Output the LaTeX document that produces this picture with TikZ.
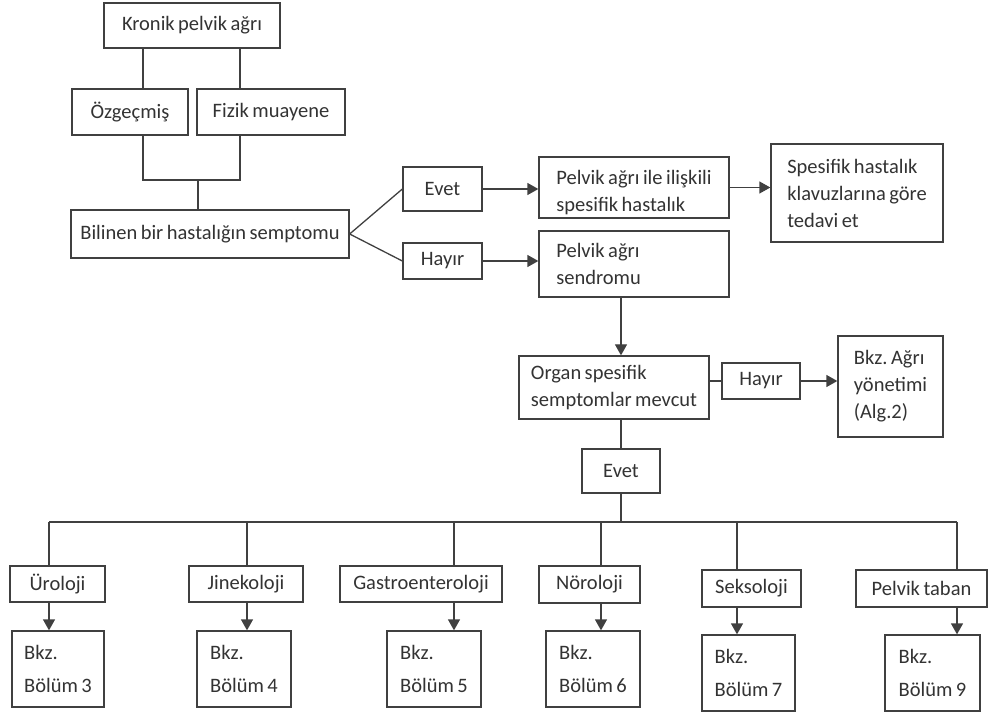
\documentclass[tikz,border=0pt]{standalone}
\usepackage{fontspec}
\setmainfont[WordSpace=0.75]{Carlito}
\frenchspacing
\usetikzlibrary{arrows.meta}

\begin{document}
\begin{tikzpicture}[
        x=1pt, y=-1pt,
        kutu/.style 2 args={
            rectangle,
            draw=black!75,
            line width=1.3pt,
            fill=white,
            text=black!80,
            minimum width=#1,
            minimum height=#2,
            inner xsep=8pt,
            inner ysep=0pt,
            align=left,
            font=\fontsize{20.5}{27}\selectfont
        },
        cizgi/.style={draw=black!75, line width=1.3pt},
        ok/.style={cizgi, -{Triangle[length=11pt,width=12pt]}}
    ]

    \useasboundingbox (0,0) rectangle (989,714);

    % Kutular
    \node[kutu={176pt}{45pt}]  (kronik)   at (192,25.5)  {Kronik pelvik ağrı};
    \node[kutu={116pt}{46pt}]  (ozgecmis) at (130,112)   {Özgeçmiş};
    \node[kutu={148pt}{46pt}]  (fizik)    at (271,112)   {Fizik muayene};
    \node[kutu={278pt}{48pt}]  (bilinen)  at (210,234)   {Bilinen bir hastalığın semptomu};
    \node[kutu={79pt}{44pt}]   (evet1)    at (442.5,189) {Evet};
    \node[kutu={79pt}{36pt}]   (hayir1)   at (442.5,261) {Hayır};
    \node[kutu={190pt}{61pt}]  (iliskili) at (634,187.5) {\rule{0pt}{24pt}Pelvik ağrı ile ilişkili\\spesifik hastalık};
    \node[kutu={190pt}{66pt}]  (sendrom)  at (634,264)   {Pelvik ağrı\phantom{ ile ilişkili}\\sendromu};
    \node[kutu={172pt}{98pt}]  (spesifik) at (857,193)   {Spesifik hastalık\\klavuzlarına göre\\tedavi et};
    \node[kutu={190pt}{63pt}]  (organ)    at (614,387.5) {Organ spesifik\\semptomlar mevcut};
    \node[kutu={78pt}{36pt}]   (hayir2)   at (761,381)   {Hayır};
    \node[kutu={105pt}{101pt}] (agri)     at (890.5,386.5) {Bkz. Ağrı\\yönetimi\\(Alg.2)};
    \node[kutu={78pt}{44pt}]   (evet2)    at (621,471)   {Evet};

    % Alt kutular
    \node[kutu={95pt}{36pt}]   (uro) at (57.5,584)   {Üroloji};
    \node[kutu={114pt}{36pt}]  (jin) at (246,584)    {Jinekoloji};
    \node[kutu={162pt}{36pt}]  (gas) at (421,584)    {Gastroenteroloji};
    \node[kutu={101pt}{37pt}]  (nor) at (589.5,584.5) {Nöroloji};
    \node[kutu={99pt}{37pt}]   (sek) at (751.5,588.5) {Seksoloji};
    \node[kutu={131pt}{37pt}]  (pel) at (921.5,588.5) {Pelvik taban};

    \node[kutu={92pt}{76pt}]   (b3) at (58,669)    {Bkz.\\[6pt]Bölüm 3};
    \node[kutu={94pt}{76pt}]   (b4) at (244,669)   {Bkz.\\[6pt]Bölüm 4};
    \node[kutu={94pt}{76pt}]   (b5) at (434,669)   {Bkz.\\[6pt]Bölüm 5};
    \node[kutu={94pt}{76pt}]   (b6) at (593,669)   {Bkz.\\[6pt]Bölüm 6};
    \node[kutu={93pt}{76pt}]   (b7) at (748.5,673) {Bkz.\\[6pt]Bölüm 7};
    \node[kutu={95pt}{76pt}]   (b9) at (932.5,673) {Bkz.\\[6pt]Bölüm 9};

    % Bağlantılar
    \coordinate (birlesim) at (198,180);
    \draw[cizgi] ([xshift=13pt]ozgecmis.north) -- ([xshift=13pt]ozgecmis.north |- kronik.south);
    \draw[cizgi] ([xshift=-31pt]fizik.north) -- ([xshift=-31pt]fizik.north |- kronik.south);
    \draw[cizgi] ([xshift=13pt]ozgecmis.south) |- (birlesim) -| ([xshift=-31pt]fizik.south);
    \draw[cizgi] (birlesim) -- (birlesim |- bilinen.north);

    \draw[cizgi] (bilinen.east) -- (evet1.west);
    \draw[cizgi] (bilinen.east) -- (hayir1.west);
    \draw[ok] (evet1.east) -- (evet1.east -| iliskili.west);
    \draw[ok] (hayir1.east) -- (hayir1.east -| sendrom.west);
    \draw[ok] (iliskili.east) -- (iliskili.east -| spesifik.west);

    \draw[ok] (sendrom.south -| evet2) -- (organ.north -| evet2);
    \draw[cizgi] (hayir2.west -| organ.east) -- (hayir2.west);
    \draw[ok] (hayir2.east) -- (hayir2.east -| agri.west);
    \draw[cizgi] (organ.south -| evet2) -- (evet2.north);

    \coordinate (solbus) at (49,522);
    \coordinate (sagbus) at (957,522);
    \draw[cizgi] (evet2.south) -- (evet2.south |- solbus);
    \draw[cizgi] (solbus) -- (sagbus);

    \foreach \x/\ust/\alt in {49/uro/b3, 247/jin/b4, 454/gas/b5, 601/nor/b6, 737/sek/b7, 957/pel/b9} {
        \coordinate (kol) at (\x,522);
        \draw[cizgi] (kol) -- (kol |- \ust.north);
        \draw[ok] (kol |- \ust.south) -- (kol |- \alt.north);
    }

    \end{tikzpicture}
\end{document}
